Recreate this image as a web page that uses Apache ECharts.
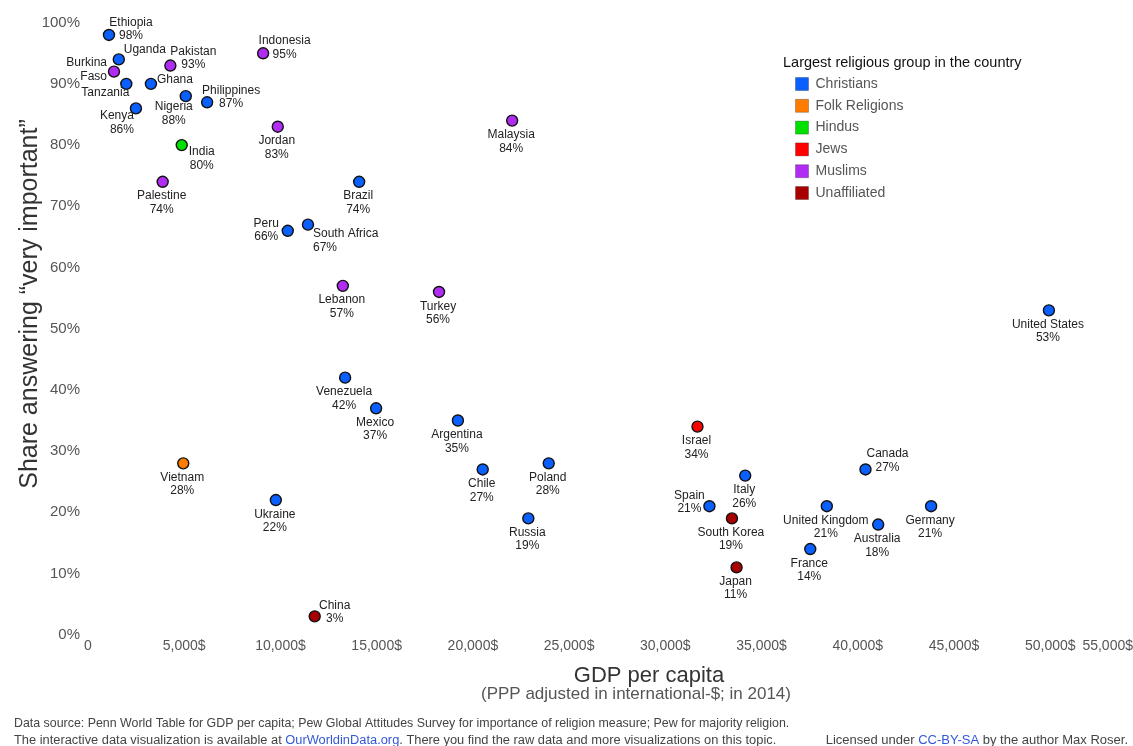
<!DOCTYPE html>
<html>
<head>
<meta charset="utf-8">
<script src="https://cdn.jsdelivr.net/npm/echarts@6/dist/echarts.min.js"></script>
<style>
  html, body { margin: 0; padding: 0; background: #fff; }
  #chart { width: 1133px; height: 746px; }
</style>
</head>
<body>
<div id="chart"></div>
<script>
// data
var countries = ["Ethiopia", "Uganda", "Burkina Faso", "Tanzania", "Ghana", "Pakistan", "Nigeria", "Philippines",
  "Kenya", "Indonesia", "Jordan", "India", "Palestine", "Malaysia", "Brazil", "Peru", "South Africa", "Lebanon",
  "Turkey", "United States", "Venezuela", "Mexico", "Argentina", "Israel", "Vietnam", "Poland", "Chile", "Canada",
  "Italy", "Ukraine", "Spain", "United Kingdom", "Germany", "Russia", "South Korea", "Australia", "France", "Japan", "China"];
var gdp = [1090, 1600, 1350, 1990, 3270, 4280, 5080, 6190,
  2490, 9100, 9860, 4870, 3880, 22040, 14090, 10380, 11430, 13240,
  18240, 49930, 13360, 14970, 19220, 31670, 4950, 23940, 20510, 40400,
  34150, 9760, 32290, 38390, 43810, 22880, 33460, 41060, 37530, 33700, 11780];
var share = [98, 94, 92, 90, 90, 93, 88, 87,
  86, 95, 83, 80, 74, 84, 74, 66, 67, 57,
  56, 53, 42, 37, 35, 34, 28, 28, 27, 27,
  26, 22, 21, 21, 21, 19, 19, 18, 14, 11, 3];
var religion = ["Christians", "Christians", "Muslims", "Christians", "Christians", "Muslims", "Christians", "Christians",
  "Christians", "Muslims", "Muslims", "Hindus", "Muslims", "Muslims", "Christians", "Christians", "Christians", "Muslims",
  "Muslims", "Christians", "Christians", "Christians", "Christians", "Jews", "Folk Religions", "Christians", "Christians", "Christians",
  "Christians", "Christians", "Christians", "Christians", "Christians", "Christians", "Unaffiliated", "Christians", "Christians", "Unaffiliated", "Unaffiliated"];
var groups = ["Christians", "Folk Religions", "Hindus", "Jews", "Muslims", "Unaffiliated"];
var groupColors = ["#0a5fff", "#ff7c00", "#00e000", "#ff0000", "#b02cf2", "#a80000"];
var noPct = ["Uganda", "Burkina Faso", "Tanzania", "Ghana"];

// where each label sits relative to its dot: [dx, dy, align]; default is below
var labelSpot = {
  "Ethiopia": [22, -6, "center"],
  "Uganda": [26, -10, "center"],
  "Burkina Faso": [-7, -2, "right"],
  "Tanzania": [-21, 9, "center"],
  "Ghana": [24, -4, "center"],
  "Pakistan": [23, -7.5, "center"],
  "Nigeria": [-12, 17.5, "center"],
  "Philippines": [24, -5, "center"],
  "Kenya": [-2, 14.5, "right"],
  "Indonesia": [21.5, -5.5, "center"],
  "India": [20, 13.5, "center"],
  "Peru": [-21.5, -0.5, "center"],
  "South Africa": [5, 16, "left"],
  "China": [20, -4, "center"],
  "Canada": [22, -9, "center"],
  "Spain": [-20, -4, "center"]
};

var series = groups.map(function (g, gi) {
  var pts = [];
  countries.forEach(function (c, i) {
    if (religion[i] !== g) return;
    var spot = labelSpot[c] || [-1, 21, "center"];
    var name = c === "Burkina Faso" ? "Burkina\nFaso" : c;
    pts.push({
      name: c,
      value: [gdp[i], share[i]],
      label: {
        formatter: noPct.indexOf(c) >= 0 ? name : name + "\n" + share[i] + "%",
        offset: [spot[0], spot[1]],
        align: spot[2]
      }
    });
  });
  return {
    name: g,
    type: "scatter",
    data: pts,
    symbolSize: 11,
    itemStyle: { color: groupColors[gi], borderColor: "#111", borderWidth: 1.4, opacity: 1 },
    label: {
      show: true,
      position: "inside",
      verticalAlign: "middle",
      fontFamily: "Liberation Sans",
      fontSize: 12,
      lineHeight: 13.5,
      color: "#222"
    },
    z: 3
  };
});

var chart = echarts.init(document.getElementById("chart"));
var option = {
  animation: false,
  color: groupColors,
  grid: { left: 88, right: 0, top: 22.7, bottom: 111.3, containLabel: false, outerBoundsMode: "none" },
  legend: {
    data: groups.map(function (g, i) {
      return { name: g, itemStyle: { color: groupColors[i], borderColor: "rgba(0,0,0,0.25)", borderWidth: 1 } };
    }),
    orient: "vertical",
    left: 790,
    top: 72,
    icon: "rect",
    itemWidth: 13,
    itemHeight: 13,
    itemGap: 7.8,
    textStyle: { fontFamily: "Liberation Sans", fontSize: 14, color: "#555", lineHeight: 14, padding: [0, 0, 0, 2] }
  },
  xAxis: {
    type: "value",
    min: 0,
    max: 54300,
    interval: 5000,
    splitLine: { show: false },
    axisLine: { show: false },
    axisTick: { show: false },
    axisLabel: {
      margin: 4,
      fontFamily: "Liberation Sans",
      fontSize: 14,
      color: "#555",
      showMaxLabel: true,
      alignMaxLabel: "right",
      formatter: function (v) {
        var r = Math.round(v / 5000) * 5000;
        return r === 0 ? "0" : r.toLocaleString("en-US") + "$";
      }
    }
  },
  yAxis: {
    type: "value",
    min: 0,
    max: 100,
    interval: 10,
    splitLine: { show: false },
    axisLine: { show: false },
    axisTick: { show: false },
    axisLabel: {
      margin: 8,
      fontFamily: "Liberation Sans",
      fontSize: 15,
      color: "#555",
      formatter: "{value}%"
    }
  },
  graphic: [
    {
      type: "text", x: 783, y: 63,
      style: { text: "Largest religious group in the country", font: "14.5px Liberation Sans", fill: "#111",
        verticalAlign: "middle" }
    },
    {
      type: "text", x: 30, y: 304, rotation: Math.PI / 2,
      style: { text: "Share answering \u201cvery important\u201d", font: "25px Liberation Sans", fill: "#333",
        align: "center", verticalAlign: "middle" }
    },
    {
      type: "text", x: 649, y: 676,
      style: { text: "GDP per capita", font: "22px Liberation Sans", fill: "#333", align: "center", verticalAlign: "middle" }
    },
    {
      type: "text", x: 636, y: 694,
      style: { text: "(PPP adjusted in international-$; in 2014)", font: "17px Liberation Sans", fill: "#555",
        align: "center", verticalAlign: "middle" }
    },
    {
      type: "text", x: 14, y: 724,
      style: {
        text: "Data source: Penn World Table for GDP per capita; Pew Global Attitudes Survey for importance of religion measure; Pew for majority religion.",
        font: "12.4px Liberation Sans", fill: "#444", verticalAlign: "middle"
      }
    },
    {
      type: "text", x: 14, y: 740,
      style: {
        text: "The interactive data visualization is available at {a|OurWorldinData.org}. There you find the raw data and more visualizations on this topic.",
        font: "12.85px Liberation Sans", fill: "#444", verticalAlign: "middle",
        rich: { a: { fill: "#3358d6", font: "12.85px Liberation Sans" } }
      }
    },
    {
      type: "text", x: 1128, y: 740,
      style: {
        text: "Licensed under {a|CC-BY-SA} by the author Max Roser.",
        font: "13px Liberation Sans", fill: "#444", align: "right", verticalAlign: "middle",
        rich: { a: { fill: "#3358d6", font: "13px Liberation Sans" } }
      }
    }
  ],
  series: series
};
chart.setOption(option);
</script>
</body>
</html>
